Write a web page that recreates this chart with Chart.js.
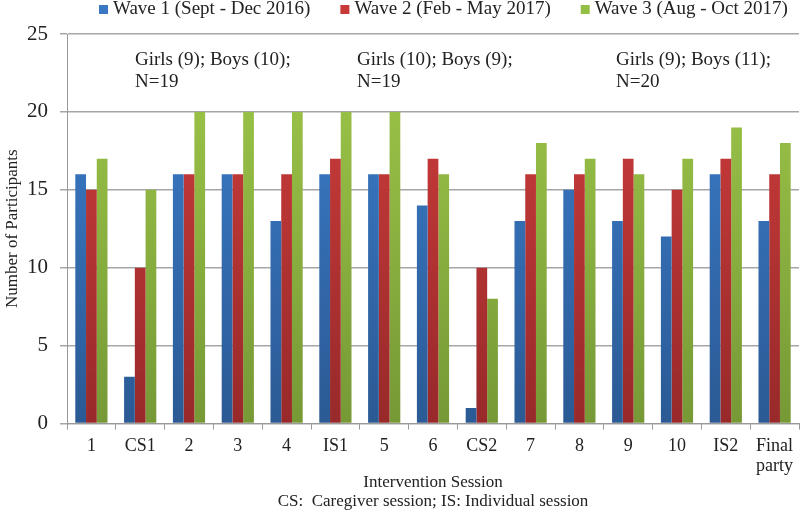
<!DOCTYPE html>
<html>
<head>
<meta charset="utf-8">
<script src="https://cdn.jsdelivr.net/npm/chart.js@4"></script>
<style>
  html, body { margin: 0; padding: 0; background: #fff; }
  #wrap { width: 800px; height: 513px; }
</style>
</head>
<body>
<div id="wrap"><canvas id="chart"></canvas></div>
<script>
// Data
const sessions = ["1", "CS1", "2", "3", "4", "IS1", "5", "6", "CS2", "7", "8", "9", "10", "IS2", ["Final", "party"]];
const wave1 = [16, 3, 16, 16, 13, 16, 16, 14, 1, 13, 15, 13, 12, 16, 13];
const wave2 = [15, 10, 16, 16, 16, 17, 16, 17, 10, 16, 16, 17, 15, 17, 16];
const wave3 = [17, 15, 20, 20, 20, 20, 20, 16, 8, 18, 17, 16, 17, 19, 18];
const waveNames = ["Wave 1 (Sept - Dec 2016)", "Wave 2 (Feb - May 2017)", "Wave 3 (Aug - Oct 2017)"];
const yTicks = [0, 5, 10, 15, 20, 25];
const notes = [
    ["Girls (9); Boys (10);", "N=19"],
    ["Girls (10); Boys (9);", "N=19"],
    ["Girls (9); Boys (11);", "N=20"]
];

const FONT = "'Liberation Serif', 'Times New Roman', serif";

// Vertical gradient like the old Excel bars
const gradient = (top, bottom) => (ctx) => {
    const area = ctx.chart.chartArea;
    if (!area) return bottom;
    const g = ctx.chart.ctx.createLinearGradient(0, area.top, 0, area.bottom);
    g.addColorStop(0, top);
    g.addColorStop(1, bottom);
    return g;
};

// Legend row on top (spacing of the built-in one is too tight)
const legendPlugin = {
    id: "topLegend",
    afterDraw(chart) {
        const ctx = chart.ctx;
        ctx.save();
        ctx.font = "19px " + FONT;
        ctx.textBaseline = "middle";
        let x = 99;
        const y = 9;
        chart.data.datasets.forEach(ds => {
            ctx.fillStyle = ds.legendColor;
            ctx.fillRect(x, y - 4, 9, 9);
            ctx.fillStyle = "#222";
            ctx.fillText(ds.label, x + 14, y);
            x += 14 + ctx.measureText(ds.label).width + 30;
        });
        ctx.restore();
    }
};

// Text notes inside the plot
const notesPlugin = {
    id: "notes",
    afterDraw(chart) {
        const { ctx, chartArea } = chart;
        const xs = [135, 357, 616];
        ctx.save();
        ctx.font = "19px " + FONT;
        ctx.fillStyle = "#222";
        ctx.textBaseline = "middle";
        notes.forEach((lines, i) => {
            lines.forEach((t, j) => ctx.fillText(t, xs[i], chartArea.top + 26 + j * 22));
        });
        ctx.restore();
    }
};

new Chart(document.getElementById("chart"), {
    type: "bar",
    data: {
        labels: sessions,
        datasets: [
            { label: waveNames[0], data: wave1, backgroundColor: gradient("#3c7fcf", "#2b5a94"), legendColor: "#3a78c4" },
            { label: waveNames[1], data: wave2, backgroundColor: gradient("#d23f3d", "#98292a"), legendColor: "#c73a38" },
            { label: waveNames[2], data: wave3, backgroundColor: gradient("#a0c94a", "#769936"), legendColor: "#94bf45" }
        ]
    },
    options: {
        responsive: true,
        maintainAspectRatio: false,
        animation: false,
        categoryPercentage: 0.66,
        barPercentage: 1.0,
        layout: { padding: { left: 2, right: 1, top: 34, bottom: 2 } },
        plugins: {
            legend: { display: false },
            tooltip: { enabled: false }
        },
        scales: {
            x: {
                grid: { display: true, drawOnChartArea: false, drawTicks: true, tickLength: 6, color: "#999", offset: true },
                border: { color: "#999" },
                ticks: { font: { family: FONT, size: 18, lineHeight: 1.15 }, color: "#222", maxRotation: 0, autoSkip: false, padding: 6 },
                title: {
                    display: true,
                    text: ["Intervention Session", "CS:  Caregiver session; IS: Individual session"],
                    font: { family: FONT, size: 17, lineHeight: 1.12 },
                    color: "#222",
                    padding: { top: -10, bottom: 0 }
                }
            },
            y: {
                min: 0,
                max: 25,
                afterBuildTicks: (axis) => { axis.ticks = yTicks.map(v => ({ value: v })); },
                afterFit: (axis) => { axis.width = 65; },
                grid: { color: "#a6a6a6", lineWidth: 1.5, tickLength: 7 },
                border: { color: "#999" },
                ticks: { font: { family: FONT, size: 21 }, color: "#222", padding: 12 },
                title: {
                    display: true,
                    text: "Number of Participants",
                    font: { family: FONT, size: 17 },
                    color: "#222",
                    padding: { top: 0, bottom: 4 }
                }
            }
        }
    },
    plugins: [legendPlugin, notesPlugin]
});
</script>
</body>
</html>
